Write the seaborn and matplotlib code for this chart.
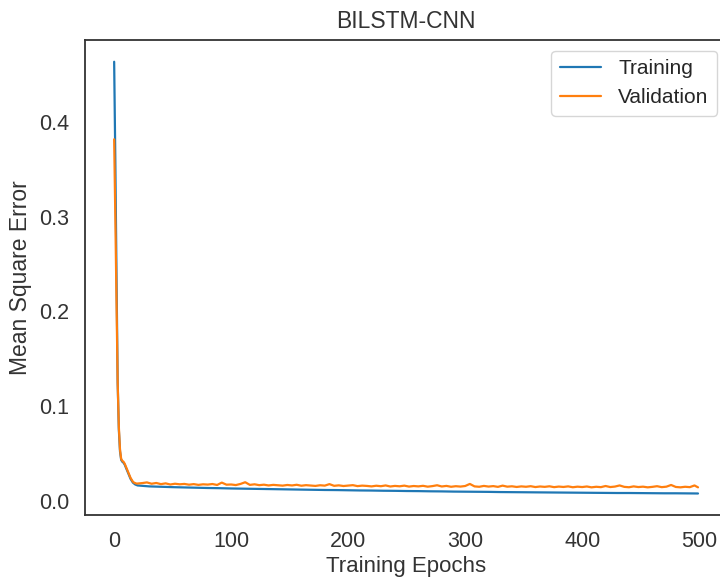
import numpy as np
import pandas as pd
import matplotlib
matplotlib.use('Agg')
import matplotlib.pyplot as plt
import seaborn as sns

# Training loss, epochs 0..19 then every 10 epochs
train_head = [0.464, 0.36, 0.24, 0.125, 0.075, 0.052, 0.043, 0.041, 0.040, 0.038,
              0.035, 0.032, 0.029, 0.026, 0.023, 0.021, 0.019, 0.018, 0.017, 0.0165]
train_tail = [0.0160, 0.0150, 0.0146, 0.0142, 0.0139, 0.0136, 0.0133, 0.0131, 0.0128, 0.0126,
              0.0124, 0.0122, 0.0120, 0.0118, 0.0116, 0.0114, 0.0112, 0.0111, 0.0109, 0.0107,
              0.0106, 0.0104, 0.0103, 0.0101, 0.0100, 0.0098, 0.0097, 0.0095, 0.0094, 0.0093,
              0.0092, 0.0090, 0.0089, 0.0088, 0.0087, 0.0086, 0.0085, 0.0084, 0.0083, 0.0082,
              0.0081, 0.0080, 0.0080, 0.0079, 0.0078, 0.0077, 0.0077, 0.0076, 0.0075]

# Validation loss, epochs 0..19 then every 4 epochs
val_head = [0.382, 0.30, 0.21, 0.125, 0.078, 0.054, 0.044, 0.042, 0.041, 0.039,
            0.036, 0.033, 0.030, 0.027, 0.024, 0.022, 0.020, 0.019, 0.0185, 0.018]
val_tail = [0.0180, 0.0185, 0.0192, 0.0178, 0.0186, 0.0174, 0.0182, 0.0170, 0.0178, 0.0172,
            0.0176, 0.0168, 0.0174, 0.0166, 0.0172, 0.0169, 0.0175, 0.0165, 0.0190, 0.0168,
            0.0170, 0.0164, 0.0176, 0.0194, 0.0166, 0.0172, 0.0163, 0.0168, 0.0160, 0.0166,
            0.0162, 0.0158, 0.0165, 0.0160, 0.0167, 0.0157, 0.0163, 0.0159, 0.0155, 0.0162,
            0.0158, 0.0174, 0.0156, 0.0161, 0.0154, 0.0159, 0.0163, 0.0153, 0.0158, 0.0155,
            0.0150, 0.0157, 0.0152, 0.0160, 0.0149, 0.0155, 0.0151, 0.0158, 0.0148, 0.0154,
            0.0150, 0.0156, 0.0147, 0.0153, 0.0162, 0.0149, 0.0155, 0.0146, 0.0152, 0.0148,
            0.0154, 0.0176, 0.0150, 0.0146, 0.0155, 0.0148, 0.0153, 0.0145, 0.0158, 0.0147,
            0.0151, 0.0144, 0.0150, 0.0146, 0.0152, 0.0143, 0.0149, 0.0145, 0.0151, 0.0142,
            0.0148, 0.0144, 0.0150, 0.0141, 0.0147, 0.0143, 0.0149, 0.0140, 0.0146, 0.0142,
            0.0154, 0.0143, 0.0148, 0.0160, 0.0145, 0.0141, 0.0150, 0.0143, 0.0147, 0.0140,
            0.0145, 0.0152, 0.0142, 0.0147, 0.0165, 0.0144, 0.0140, 0.0146, 0.0142, 0.0160,
            0.0140]

train_epochs = list(range(0, 20)) + list(range(20, 500, 10)) + [499]
val_epochs = list(range(0, 20)) + list(range(20, 500, 4)) + [499]

df = pd.concat([
    pd.DataFrame({'epoch': train_epochs, 'mse': train_head + train_tail, 'set': 'Training'}),
    pd.DataFrame({'epoch': val_epochs, 'mse': val_head + val_tail, 'set': 'Validation'}),
])

sns.set_style('white')
plt.rcParams['font.family'] = ['Liberation Sans', 'DejaVu Sans']

fig, ax = plt.subplots(figsize=(7.2, 5.82), dpi=100)
ax.set_position([0.118, 0.115, 0.892, 0.816])

sns.lineplot(data=df, x='epoch', y='mse', hue='set', palette=['#1f77b4', '#ff7f0e'],
             linewidth=1.6, ax=ax)

for s in ax.spines.values():
    s.set_color('#333333')
    s.set_linewidth(1.3)

ax.set_xticks([0, 100, 200, 300, 400, 500])
ax.set_yticks([0.0, 0.1, 0.2, 0.3, 0.4])
ax.tick_params(labelsize=15.5, colors='#333333', pad=8)
ax.set_xlabel('Training Epochs', fontsize=16, color='#333333', labelpad=3)
ax.set_ylabel('Mean Square Error', fontsize=16.5, color='#333333', labelpad=5)
ax.set_title('BILSTM-CNN', fontsize=16.5, color='#333333', pad=9)
ax.legend(loc='upper right', fontsize=15, title=None, handlelength=2.0)

fig.savefig('out.png', dpi=100)
